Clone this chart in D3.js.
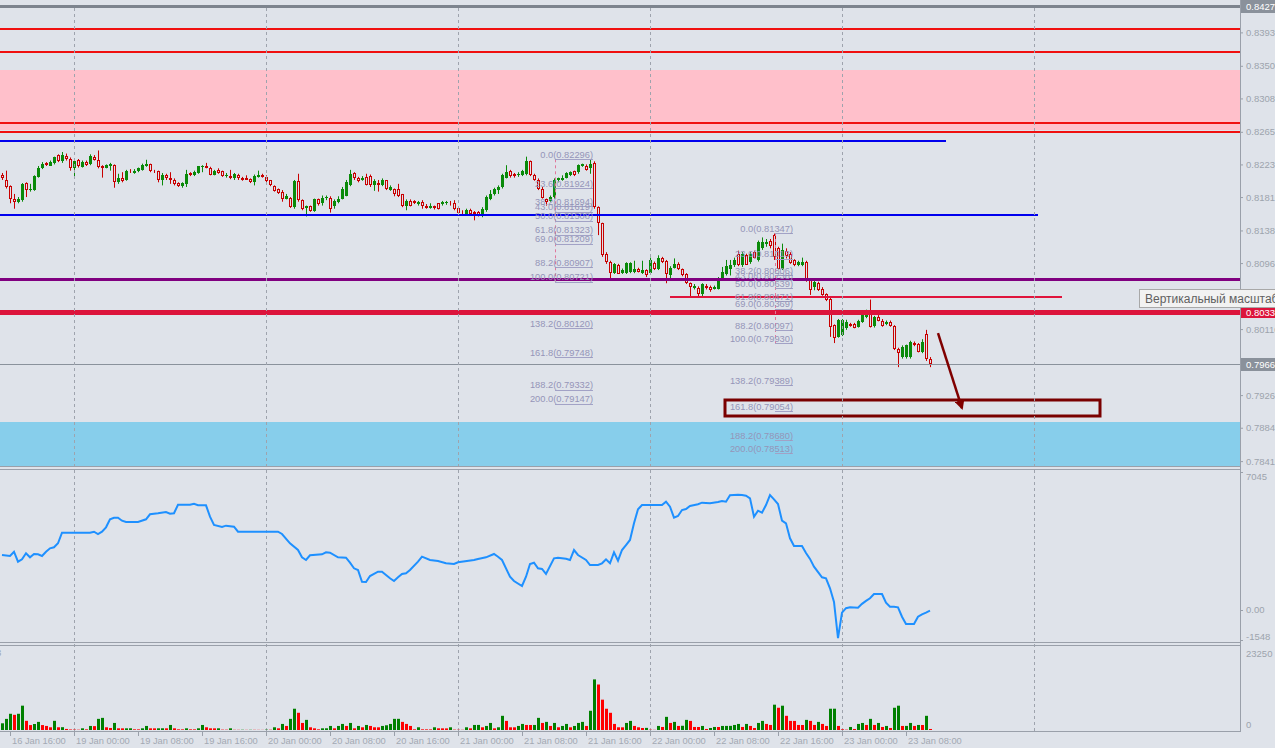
<!DOCTYPE html>
<html><head><meta charset="utf-8">
<script src="https://cdn.jsdelivr.net/npm/d3@7"></script>
<style>
html,body{margin:0;padding:0;background:#dfe3ea;overflow:hidden}
svg{display:block}
text{font-family:"Liberation Sans",Arial,sans-serif}
</style></head><body>
<svg id="c" width="1275" height="748"></svg>
<script>
// ---------------- DATA ----------------
// 30-minute candles, bar 0 = 16 Jan 15:00 ; [open, high, low, close]
const ohlc = [
[0.8210,0.8212,0.8203,0.8205],[0.8203,0.8215,0.8192,0.8194],[0.8195,0.8196,0.8173,0.8179],[0.8179,0.8185,0.8166,0.8175],
[0.8174,0.8181,0.8173,0.8178],[0.8177,0.8199,0.8175,0.8198],[0.8199,0.8200,0.8181,0.8190],[0.8190,0.8198,0.8188,0.8191],
[0.8190,0.8209,0.8189,0.8208],[0.8207,0.8221,0.8206,0.8219],[0.8218,0.8226,0.8217,0.8224],[0.8225,0.8226,0.8221,0.8222],
[0.8221,0.8228,0.8221,0.8226],[0.8225,0.8233,0.8223,0.8232],[0.8235,0.8236,0.8226,0.8227],[0.8227,0.8239,0.8225,0.8235],
[0.8234,0.8237,0.8228,0.8230],[0.8230,0.8232,0.8215,0.8219],[0.8218,0.8229,0.8205,0.8228],[0.8229,0.8230,0.8219,0.8221],
[0.8220,0.8228,0.8219,0.8226],[0.8226,0.8228,0.8221,0.8222],[0.8223,0.8236,0.8222,0.8234],[0.8233,0.8235,0.8228,0.8229],
[0.8229,0.8241,0.8218,0.8220],[0.8221,0.8222,0.8206,0.8218],[0.8219,0.8223,0.8218,0.8222],[0.8221,0.8225,0.8215,0.8223],
[0.8222,0.8223,0.8193,0.8200],[0.8200,0.8211,0.8198,0.8206],[0.8206,0.8213,0.8200,0.8202],[0.8203,0.8216,0.8202,0.8215],
[0.8215,0.8217,0.8212,0.8213],[0.8212,0.8217,0.8211,0.8215],[0.8215,0.8219,0.8213,0.8218],[0.8216,0.8224,0.8215,0.8222],
[0.8221,0.8229,0.8220,0.8223],[0.8223,0.8224,0.8213,0.8215],[0.8215,0.8216,0.8212,0.8213],[0.8214,0.8215,0.8200,0.8203],
[0.8203,0.8212,0.8196,0.8210],[0.8210,0.8211,0.8203,0.8205],[0.8205,0.8213,0.8198,0.8203],[0.8203,0.8205,0.8196,0.8198],
[0.8199,0.8200,0.8194,0.8195],[0.8195,0.8200,0.8193,0.8199],[0.8198,0.8216,0.8194,0.8211],[0.8212,0.8213,0.8208,0.8209],
[0.8209,0.8215,0.8208,0.8213],[0.8212,0.8221,0.8211,0.8221],[0.8220,0.8222,0.8213,0.8221],[0.8221,0.8225,0.8218,0.8218],
[0.8218,0.8220,0.8209,0.8210],[0.8210,0.8216,0.8209,0.8215],[0.8216,0.8218,0.8211,0.8212],[0.8214,0.8215,0.8207,0.8208],
[0.8208,0.8212,0.8206,0.8209],[0.8208,0.8216,0.8204,0.8205],[0.8206,0.8212,0.8203,0.8211],[0.8210,0.8211,0.8203,0.8205],
[0.8206,0.8207,0.8202,0.8203],[0.8205,0.8209,0.8203,0.8203],[0.8204,0.8205,0.8199,0.8200],[0.8200,0.8210,0.8196,0.8208],
[0.8207,0.8215,0.8206,0.8209],[0.8210,0.8211,0.8206,0.8207],[0.8207,0.8209,0.8200,0.8202],[0.8203,0.8203,0.8195,0.8196],
[0.8195,0.8196,0.8188,0.8189],[0.8191,0.8192,0.8185,0.8186],[0.8188,0.8190,0.8175,0.8179],[0.8179,0.8185,0.8178,0.8182],
[0.8180,0.8181,0.8167,0.8168],[0.8168,0.8203,0.8166,0.8202],[0.8202,0.8211,0.8175,0.8177],[0.8177,0.8178,0.8164,0.8166],
[0.8167,0.8170,0.8156,0.8169],[0.8169,0.8170,0.8162,0.8163],[0.8163,0.8179,0.8162,0.8178],[0.8178,0.8179,0.8170,0.8172],
[0.8173,0.8183,0.8170,0.8180],[0.8180,0.8183,0.8177,0.8181],[0.8180,0.8182,0.8161,0.8166],[0.8170,0.8178,0.8166,0.8176],
[0.8175,0.8182,0.8173,0.8179],[0.8179,0.8194,0.8178,0.8191],[0.8183,0.8203,0.8182,0.8200],[0.8196,0.8216,0.8195,0.8211],
[0.8212,0.8213,0.8203,0.8205],[0.8206,0.8207,0.8200,0.8202],[0.8203,0.8208,0.8202,0.8206],[0.8207,0.8211,0.8196,0.8197],
[0.8208,0.8210,0.8194,0.8196],[0.8196,0.8204,0.8189,0.8202],[0.8199,0.8203,0.8188,0.8196],[0.8197,0.8205,0.8195,0.8203],
[0.8203,0.8203,0.8190,0.8191],[0.8190,0.8196,0.8189,0.8194],[0.8191,0.8192,0.8182,0.8185],[0.8191,0.8198,0.8181,0.8183],
[0.8185,0.8185,0.8168,0.8170],[0.8169,0.8178,0.8164,0.8176],[0.8176,0.8178,0.8169,0.8170],[0.8176,0.8177,0.8172,0.8173],
[0.8172,0.8176,0.8170,0.8175],[0.8175,0.8177,0.8166,0.8169],[0.8170,0.8172,0.8166,0.8167],[0.8167,0.8173,0.8166,0.8170],
[0.8169,0.8170,0.8165,0.8167],[0.8173,0.8173,0.8165,0.8166],[0.8172,0.8176,0.8170,0.8175],[0.8173,0.8176,0.8171,0.8175],
[0.8175,0.8176,0.8170,0.8173],[0.8173,0.8177,0.8164,0.8166],[0.8167,0.8168,0.8159,0.8161],[0.8162,0.8164,0.8159,0.8161],
[0.8159,0.8166,0.8158,0.8164],[0.8164,0.8166,0.8158,0.8159],[0.8162,0.8163,0.8151,0.8159],[0.8162,0.8163,0.8156,0.8158],
[0.8159,0.8168,0.8155,0.8165],[0.8164,0.8183,0.8162,0.8181],[0.8179,0.8190,0.8177,0.8185],[0.8185,0.8193,0.8183,0.8191],
[0.8190,0.8196,0.8185,0.8194],[0.8194,0.8211,0.8192,0.8209],[0.8206,0.8222,0.8205,0.8213],[0.8215,0.8216,0.8206,0.8208],
[0.8211,0.8212,0.8206,0.8208],[0.8209,0.8213,0.8207,0.8211],[0.8209,0.8216,0.8208,0.8215],[0.8211,0.8233,0.8209,0.8228],
[0.8227,0.8228,0.8208,0.8209],[0.8209,0.8211,0.8202,0.8203],[0.8203,0.8205,0.8190,0.8192],[0.8192,0.8194,0.8179,0.8180],
[0.8178,0.8179,0.8170,0.8175],[0.8176,0.8183,0.8175,0.8181],[0.8181,0.8205,0.8179,0.8203],[0.8203,0.8206,0.8200,0.8206],
[0.8203,0.8209,0.8202,0.8206],[0.8206,0.8213,0.8205,0.8212],[0.8210,0.8214,0.8208,0.8213],[0.8214,0.8215,0.8208,0.8210],
[0.8213,0.8223,0.8211,0.8222],[0.8221,0.8224,0.8220,0.8223],[0.8221,0.8223,0.8215,0.8216],[0.8219,0.8230,0.8211,0.8223],
[0.8225,0.8227,0.8166,0.8168],[0.8168,0.8169,0.8132,0.8147],[0.8147,0.8148,0.8104,0.8106],[0.8108,0.8110,0.8095,0.8097],
[0.8097,0.8099,0.8076,0.8083],[0.8083,0.8096,0.8082,0.8095],[0.8093,0.8095,0.8082,0.8082],[0.8083,0.8089,0.8082,0.8087],
[0.8083,0.8097,0.8082,0.8096],[0.8085,0.8097,0.8083,0.8096],[0.8085,0.8099,0.8083,0.8089],[0.8089,0.8090,0.8084,0.8085],
[0.8083,0.8099,0.8082,0.8087],[0.8087,0.8088,0.8078,0.8080],[0.8083,0.8103,0.8082,0.8100],[0.8096,0.8098,0.8087,0.8088],
[0.8088,0.8106,0.8087,0.8102],[0.8102,0.8104,0.8096,0.8097],[0.8099,0.8100,0.8070,0.8082],[0.8080,0.8092,0.8074,0.8090],
[0.8090,0.8102,0.8089,0.8095],[0.8095,0.8097,0.8087,0.8088],[0.8088,0.8089,0.8079,0.8080],[0.8082,0.8083,0.8069,0.8070],
[0.8070,0.8071,0.8053,0.8065],[0.8064,0.8069,0.8062,0.8066],[0.8064,0.8066,0.8053,0.8056],[0.8056,0.8070,0.8053,0.8069],
[0.8067,0.8069,0.8062,0.8064],[0.8065,0.8067,0.8059,0.8061],[0.8063,0.8067,0.8062,0.8065],[0.8063,0.8078,0.8062,0.8076],
[0.8074,0.8091,0.8073,0.8085],[0.8082,0.8100,0.8080,0.8092],[0.8089,0.8100,0.8080,0.8093],[0.8094,0.8103,0.8091,0.8100],
[0.8108,0.8112,0.8092,0.8093],[0.8093,0.8110,0.8091,0.8108],[0.8106,0.8108,0.8094,0.8094],[0.8097,0.8110,0.8095,0.8108],
[0.8110,0.8112,0.8102,0.8103],[0.8100,0.8125,0.8098,0.8123],[0.8115,0.8129,0.8113,0.8123],[0.8120,0.8127,0.8117,0.8123],
[0.8125,0.8127,0.8115,0.8118],[0.8132,0.8134,0.8100,0.8104],[0.8115,0.8117,0.8088,0.8089],[0.8089,0.8121,0.8087,0.8113],
[0.8112,0.8115,0.8102,0.8105],[0.8108,0.8110,0.8095,0.8096],[0.8100,0.8101,0.8092,0.8093],[0.8093,0.8099,0.8092,0.8097],
[0.8093,0.8103,0.8092,0.8097],[0.8097,0.8099,0.8072,0.8074],[0.8074,0.8075,0.8055,0.8061],[0.8065,0.8074,0.8061,0.8072],
[0.8070,0.8072,0.8060,0.8061],[0.8063,0.8065,0.8054,0.8055],[0.8056,0.8057,0.8047,0.8048],[0.8050,0.8051,0.8001,0.8014],
[0.8016,0.8017,0.7993,0.8000],[0.8001,0.8024,0.8000,0.8023],[0.8003,0.8024,0.8002,0.8023],[0.8012,0.8023,0.8010,0.8020],
[0.8017,0.8019,0.8014,0.8015],[0.8017,0.8019,0.8012,0.8013],[0.8014,0.8023,0.8013,0.8022],[0.8020,0.8031,0.8019,0.8030],
[0.8026,0.8036,0.8025,0.8035],[0.8035,0.8049,0.8013,0.8014],[0.8015,0.8028,0.8013,0.8027],[0.8027,0.8029,0.8021,0.8022],
[0.8022,0.8024,0.8014,0.8015],[0.8017,0.8022,0.8016,0.8020],[0.8020,0.8022,0.8014,0.8015],[0.8015,0.8016,0.7984,0.7985],
[0.7985,0.7987,0.7962,0.7980],[0.7975,0.7990,0.7973,0.7988],[0.7975,0.7991,0.7973,0.7990],[0.7975,0.7996,0.7973,0.7995],
[0.7993,0.7995,0.7989,0.7990],[0.7992,0.7993,0.7981,0.7982],[0.7982,0.7998,0.7980,0.7995],[0.8005,0.8010,0.7970,0.7972],
[0.7972,0.7975,0.7962,0.7966]
];

// tick volumes per bar
const volumes = [
1900,3150,4600,4300,4600,6900,2600,1400,1700,2300,1400,1150,770,2600,770,800,300,150,
120,80,
480,190,1150,1100,3160,3440,770,570,2000,480,470,480,490,190,180,480,1150,480,470,480,490,480,1430,480,190,180,480,190,180,480,1430,770,480,470,480,100,90,480,
60,50,70,40,60,50,40,30,
100,80,
770,480,1720,1150,3160,6030,4880,2000,2870,770,480,190,480,490,1150,480,1150,1720,1150,2000,480,1150,770,1430,1150,770,760,1150,1340,1720,3160,3170,2300,1720,1150,190,770,190,180,170,770,480,470,460,770,
100,80,60,
770,480,1430,1440,770,1150,2000,480,770,4020,2580,770,760,1150,1720,1430,1420,1430,3440,2000,2300,1150,2000,770,1150,1720,770,1150,2000,2300,1150,5450,14350,12900,8600,6030,4880,1720,770,760,2000,2580,1150,770,
570,600,100,50,1150,860,3730,2000,2300,1150,1200,2870,2580,860,850,1150,290,570,860,850,1150,1160,1170,1430,1720,860,1720,1150,570,2000,2580,1720,1430,7180,6310,6890,4020,2580,2570,1430,1420,2870,2580,1430,2300,1720,1150,6030,6040,1150,200,100,860,290,1720,2000,1430,3160,1430,2000,860,1150,570,6310,6890,1150,1160,2000,1150,1430,1420,4020,290
];

// oscillator line: [bar index, value]
const oscPoints = [
[0,2800],[2,2750],[3,2968],[4,2457],[5,2580],[6,2886],[7,2682],[8,2851],[9,2835],[10,2750],[11,2968],[12,3142],[13,3193],[14,3398],[15,3940],
[22,3940],[23,3991],[24,3874],[25,3991],[26,4216],[27,4620],[28,4700],[29,4708],[30,4554],[31,4488],[34,4488],[36,4626],[37,4881],[39,4933],
[41,5000],[42,4912],[43,4933],[44,5372],[47,5372],[48,5423],[49,5342],[51,5342],[52,4759],[53,4334],[55,4232],[56,4300],[58,4248],[59,3991],
[69,3991],[70,3874],[72,3398],[74,3055],[75,2682],[76,2544],[77,2784],[80,2835],[81,2938],[82,2920],[84,2682],[86,2665],[87,2406],[88,2119],
[89,2032],[90,1434],[91,1417],[92,1725],[94,1946],[95,1946],[96,1777],[97,1608],[98,1470],[99,1659],[100,1828],[101,1863],[102,2032],
[104,2457],[105,2713],[107,2544],[109,2493],[111,2375],[113,2339],[114,2426],[118,2544],[119,2595],[121,2682],[123,2851],[124,2713],[125,2544],
[127,1690],[128,1470],[130,1214],[131,1690],[132,2339],[133,2406],[134,2119],[135,2084],[136,1828],[138,2630],[139,2662],[141,2610],[142,2544],
[143,3055],[144,2800],[146,2544],[147,2288],[149,2288],[150,2375],[151,2580],[152,2375],[153,2938],[154,2509],[155,3055],[156,3311],[157,3567],
[158,4421],[159,5137],[160,5357],[165,5357],[166,5526],[167,5270],[168,4708],[169,4794],[170,5101],[171,5152],[172,5306],[174,5393],[175,5475],
[177,5444],[179,5510],[180,5561],[181,5526],[182,5853],[184,5884],[185,5868],[186,5833],[187,5700],[188,4759],[189,5066],[190,4963],[191,5357],
[192,5868],[193,5648],[194,5408],[195,4554],[196,4421],[197,3654],[198,3260],[200,3260],[201,2900],[202,2600],[203,2200],[205,1659],[206,1608],
[207,1096],[208,400],[209,-1450],[210,-150],[211,80],[212,124],[214,104],[215,300],[216,450],[217,585],[218,805],[220,805],[221,360],[222,155],
[223,155],[224,124],[225,-356],[226,-730],[228,-730],[229,-356],[230,-234],[231,-150],[232,-49]
];

const timeTickIndex = [2,18,34,50,66,82,98,114,130,146,162,178,194,210,226];
const timeTickLabels = ["16 Jan 16:00","19 Jan 00:00","19 Jan 08:00","19 Jan 16:00","20 Jan 00:00","20 Jan 08:00","20 Jan 16:00",
  "21 Jan 00:00","21 Jan 08:00","21 Jan 16:00","22 Jan 00:00","22 Jan 08:00","22 Jan 16:00","23 Jan 00:00","23 Jan 08:00"];
const dayGridIndex = [18,66,114,162,210,258];
const priceTicks = [0.8393,0.8350,0.8308,0.8265,0.8223,0.8181,0.8138,0.8096,0.8053,0.8011,0.7926,0.7884,0.7841];
const oscTicks = [7045,0,-1548];
const oscTickLabels = ["7045","0.00","-1548"];
const volTicks = [23250,0];

// chart objects (price / bar index)
const hLines = [ // price, from index, to index
  {p:0.8397,a:-5,b:400,c:"#f01010",w:2},
  {p:0.8368,a:-5,b:400,c:"#f01010",w:2},
  {p:0.8276,a:-5,b:400,c:"#f01010",w:2},
  {p:0.8265,a:-5,b:400,c:"#f01010",w:2},
  {p:0.8253,a:-5,b:236,c:"#0000ee",w:2},
  {p:0.8158,a:-5,b:259,c:"#0000ee",w:2},
  {p:0.8075,a:-5,b:400,c:"#800080",w:3},
  {p:0.8052,a:167,b:265,c:"#e0143c",w:2},
  {p:0.8033,a:-5,b:400,c:"#dc143c",w:5},
  {p:0.7966,a:-5,b:400,c:"#8a929c",w:1}
];
const bands = [{p1:0.8345,p2:0.8267,c:"#ffc0cb"},{p1:0.7891,p2:0.7800,c:"#87ceeb"}];
const targetBox = {a:180.75,b:274.5,p1:0.7920,p2:0.7899};
const arrowLine = {a:234,pa:0.80057,b:240,pb:0.79092};
const fib1Pct = [0,23.6,38.2,43,50,61.8,69,88.2,100,138.2,161.8,188.2,200];
const fib1Price = [0.82296,0.81924,0.81694,0.81619,0.81508,0.81323,0.81209,0.80907,0.80721,0.80120,0.79748,0.79332,0.79147];
const fib2Pct = fib1Pct;
const fib2Price = [0.81347,0.81013,0.80806,0.80738,0.80639,0.80471,0.80369,0.80097,0.79930,0.79389,0.79054,0.78680,0.78513];
const fibAnchors = [{a:138.25,b:147.75},{a:193.25,b:197.75}];

// ---------------- DRAW ----------------
const svg = d3.select("#c");
const GREEN="#0a8a0a", RED="#c80000", BG="#dfe3ea", AX="#9aa0aa", TXT="#9da3ad";
const PR = 1240;

const x = d3.scaleLinear().domain([0,1]).range([2,6]);
const yP = d3.scaleLinear().domain([0.7836,0.8427]).range([465,6]);
const yI = d3.scaleLinear().domain([-1548,7045]).range([640,472]);
const yV = d3.scaleLinear().domain([0,23250]).range([730,648]);
const snap = (v,w)=> (w%2===1) ? Math.round(v)+0.5 : Math.round(v);

const defs = svg.append("defs");
defs.append("clipPath").attr("id","cm").append("rect").attr("x",0).attr("y",7).attr("width",PR).attr("height",459);
defs.append("clipPath").attr("id","ci").append("rect").attr("x",0).attr("y",470).attr("width",PR).attr("height",172);
defs.append("clipPath").attr("id","cv").append("rect").attr("x",0).attr("y",646).attr("width",PR).attr("height",85);
defs.append("marker").attr("id","ah").attr("viewBox","0 0 10 10").attr("refX",8).attr("refY",5)
  .attr("markerWidth",4).attr("markerHeight",4).attr("orient","auto")
  .append("path").attr("d","M0,0L10,5L0,10z").attr("fill","#800000");

svg.append("rect").attr("width",1275).attr("height",748).attr("fill",BG);

// main pane
const gm = svg.append("g").attr("clip-path","url(#cm)");
gm.selectAll("rect.band").data(bands).join("rect").attr("class","band")
  .attr("x",0).attr("width",PR).attr("y",d=>Math.round(yP(d.p1))).attr("height",d=>Math.round(yP(d.p2))-Math.round(yP(d.p1))).attr("fill",d=>d.c);

// grid
svg.append("g").selectAll("line").data(dayGridIndex).join("line")
  .attr("x1",d=>Math.round(x(d))+0.5).attr("x2",d=>Math.round(x(d))+0.5).attr("y1",8).attr("y2",731)
  .attr("stroke","#9ea3ad").attr("stroke-dasharray","3,3");

// candles
const cg = gm.append("g");
const cd = ohlc.map((d,i)=>({i,o:d[0],h:d[1],l:d[2],c:d[3]}));
cg.selectAll("line").data(cd).join("line")
  .attr("x1",d=>Math.round(x(d.i))+0.5).attr("x2",d=>Math.round(x(d.i))+0.5)
  .attr("y1",d=>yP(d.h)).attr("y2",d=>yP(d.l)).attr("stroke",d=>d.c>=d.o?GREEN:RED).attr("stroke-width",1);
cg.selectAll("rect.up").data(cd.filter(d=>d.c>=d.o)).join("rect").attr("class","up")
  .attr("x",d=>Math.round(x(d.i))-1).attr("width",3)
  .attr("y",d=>Math.round(yP(d.c))).attr("height",d=>Math.max(1,Math.round(yP(d.o))-Math.round(yP(d.c))))
  .attr("fill",GREEN);
cg.selectAll("rect.dn").data(cd.filter(d=>d.c<d.o)).join("rect").attr("class","dn")
  .attr("x",d=>Math.round(x(d.i))-0.5).attr("width",2)
  .attr("y",d=>Math.round(yP(d.o))+0.5).attr("height",d=>Math.max(0,Math.round(yP(d.c))-Math.round(yP(d.o))-1))
  .attr("fill",BG).attr("stroke",RED).attr("stroke-width",1);

// horizontal objects
gm.selectAll("line.h").data(hLines).join("line").attr("class","h")
  .attr("x1",d=>x(d.a)).attr("x2",d=>Math.min(PR,x(d.b)))
  .attr("y1",d=>snap(yP(d.p),d.w)).attr("y2",d=>snap(yP(d.p),d.w))
  .attr("stroke",d=>d.c).attr("stroke-width",d=>d.w);

// fibonacci
const FIBC="#a2a2c6", FIBT="#9595b8";
[[fib1Pct,fib1Price],[fib2Pct,fib2Price]].forEach(([pc,pr],k)=>{
  const an=fibAnchors[k], g=gm.append("g");
  const lv = pc.map((p,j)=>({p,v:pr[j]}));
  g.append("line").attr("x1",Math.round(x(an.a))+0.5).attr("x2",Math.round(x(an.a))+0.5).attr("y1",yP(pr[0])).attr("y2",yP(pr[8]))
   .attr("stroke","#e0789c").attr("stroke-dasharray","3,3");
  g.selectAll("line.l").data(lv).join("line").attr("class","l")
   .attr("x1",x(an.a)).attr("x2",x(an.b)).attr("y1",d=>Math.round(yP(d.v))+0.5).attr("y2",d=>Math.round(yP(d.v))+0.5)
   .attr("stroke",FIBC).attr("stroke-width",1);
  g.selectAll("text").data(lv).join("text").attr("x",x(an.b)).attr("y",d=>yP(d.v)-1.5)
   .attr("text-anchor","end").attr("font-size",9.3).attr("fill",FIBT)
   .text(d=>d.p.toFixed(1)+"("+d.v.toFixed(5)+")");
});

// target rectangle and arrow
gm.append("rect").attr("x",Math.round(x(targetBox.a))).attr("width",Math.round(x(targetBox.b)-x(targetBox.a)))
  .attr("y",Math.round(yP(targetBox.p1))).attr("height",Math.round(yP(targetBox.p2)-yP(targetBox.p1)))
  .attr("fill","none").attr("stroke","#7a0000").attr("stroke-width",3);
gm.append("line").attr("x1",x(arrowLine.a)).attr("y1",yP(arrowLine.pa)).attr("x2",x(arrowLine.b)).attr("y2",yP(arrowLine.pb))
  .attr("stroke","#800000").attr("stroke-width",2.5).attr("marker-end","url(#ah)");

// oscillator
svg.append("g").attr("clip-path","url(#ci)").append("path").datum(oscPoints)
  .attr("d",d3.line().x(d=>x(d[0])).y(d=>yI(d[1]))).attr("fill","none").attr("stroke","#1e90ff").attr("stroke-width",2);

// volumes
const vd = volumes.map((v,i)=>({i,v,up:i===0||v>volumes[i-1]}));
svg.append("g").attr("clip-path","url(#cv)").selectAll("rect").data(vd).join("rect")
  .attr("x",d=>Math.round(x(d.i))-1).attr("width",3)
  .attr("y",d=>yV(d.v)).attr("height",d=>yV(0)-yV(d.v)).attr("fill",d=>d.up?"#008000":"#ff0000");

// frame lines
const fr = svg.append("g").attr("stroke",AX).attr("stroke-width",1);
fr.append("line").attr("x1",0).attr("x2",PR).attr("y1",6.5).attr("y2",6.5).attr("stroke","#7d848e").attr("stroke-width",3);
[466.5,469.5,642.5,645.5,731.5].forEach(v=>fr.append("line").attr("x1",0).attr("x2",PR).attr("y1",v).attr("y2",v));
fr.append("line").attr("x1",PR+0.5).attr("x2",PR+0.5).attr("y1",0).attr("y2",732);

// price axis
const pa = svg.append("g").attr("transform",`translate(${PR},0)`)
  .call(d3.axisRight(yP).tickValues(priceTicks).tickSize(3).tickFormat(d3.format(".5f")));
pa.select(".domain").remove();
pa.selectAll("line").attr("stroke",AX);
pa.selectAll("text").attr("fill",TXT).attr("font-size",9.5).attr("x",6).attr("font-family","Liberation Sans, Arial");

// oscillator axis
const oa = svg.append("g").attr("transform",`translate(${PR},0)`);
oa.selectAll("line").data(oscTicks).join("line").attr("x1",0).attr("x2",3)
  .attr("y1",d=>Math.round(yI(d))+0.5).attr("y2",d=>Math.round(yI(d))+0.5).attr("stroke",AX);
oa.selectAll("text").data(oscTicks).join("text").attr("x",6)
  .attr("y",d=>Math.min(636,Math.max(476,yI(d)))+3.5).attr("font-size",9.5).attr("fill",TXT)
  .text((d,i)=>oscTickLabels[i]);
// volume axis
const va = svg.append("g").attr("transform",`translate(${PR},0)`);
va.selectAll("text").data(volTicks).join("text").attr("x",6)
  .attr("y",d=>Math.min(724,Math.max(653,yV(d)))+3.5).attr("font-size",9.5).attr("fill",TXT).text(d=>d);
svg.append("text").attr("x",-4).attr("y",656).attr("font-size",9.5).attr("fill",TXT).text("3");

// time axis
const ta = svg.append("g");
ta.selectAll("line").data(timeTickIndex).join("line")
  .attr("x1",d=>Math.round(x(d))+0.5).attr("x2",d=>Math.round(x(d))+0.5).attr("y1",732).attr("y2",736).attr("stroke",AX);
ta.selectAll("text").data(timeTickIndex).join("text").attr("x",d=>x(d)+2).attr("y",744)
  .attr("font-size",9.3).attr("fill","#a3a9b3").text((d,i)=>timeTickLabels[i]);

// highlighted price labels
const hl = [{p:0.8427,t:"0.84270",c:"#8a919b"},{p:0.8033,t:"0.80330",c:"#dc143c"},{p:0.7966,t:"0.79660",c:"#8a919b"}];
const hg = svg.append("g");
hl.forEach(d=>{
  const yy=Math.max(6.5,yP(d.p));
  hg.append("rect").attr("x",PR+1).attr("y",Math.round(yy-6.5)).attr("width",40).attr("height",13).attr("fill",d.c);
  hg.append("text").attr("x",PR+6).attr("y",yy+3.5).attr("font-size",9.5).attr("fill","#ffffff").text(d.t);
});

// tooltip
const tt = svg.append("g");
tt.append("rect").attr("x",1139.5).attr("y",289.5).attr("width",150).attr("height",18).attr("fill","#f2f2f2").attr("stroke","#a8a8a8");
tt.append("text").attr("x",1145).attr("y",303).attr("font-size",12).attr("fill","#606060").text("Вертикальный масштаб");
</script>
</body></html>
